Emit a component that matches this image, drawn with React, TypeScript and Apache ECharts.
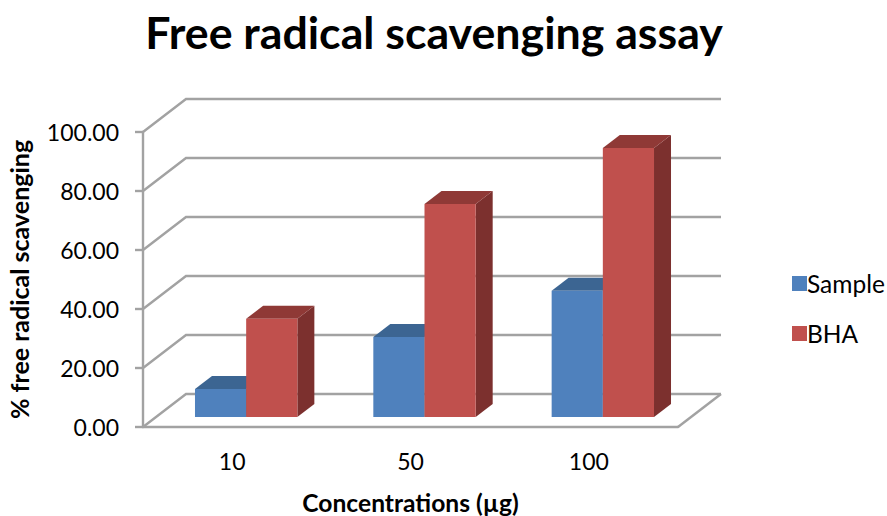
import React, { useEffect, useRef } from "react";
import * as echarts from "echarts";

const categories = ["10", "50", "100"];
const sampleValues = [9.5, 27.1, 42.8];
const bhaValues = [33.3, 72.2, 91.2];
const yTicks = [0, 20, 40, 60, 80, 100];

const FONT = "Lato, Carlito, 'Open Sans', sans-serif";
const WALL_DX = 43;
const WALL_DY = -33;
const BAR_SHIFT_X = 14;
const BAR_SHIFT_Y = -10;
const BAR_DX = 17;
const BAR_DY = -13;
const LINE = "#a2a2a2";
const LINE_W = 2.4;

function wallRender(params: any, api: any) {
  const cs = params.coordSys;
  const y = api.coord([0, api.value(1)])[1];
  const x0 = cs.x;
  const x1 = cs.x + cs.width;
  const children: any[] = [
    {
      type: "polyline",
      shape: { points: [[x0, y], [x0 + WALL_DX, y + WALL_DY], [x1 + WALL_DX, y + WALL_DY]] },
      style: { stroke: LINE, lineWidth: LINE_W, fill: "none" },
    },
  ];
  if (api.value(1) === 0) {
    children.push({
      type: "line",
      shape: { x1, y1: y, x2: x1 + WALL_DX, y2: y + WALL_DY },
      style: { stroke: LINE, lineWidth: LINE_W },
    });
  }
  return { type: "group", children };
}

function barRender(side: -1 | 1, front: string, top: string, right: string) {
  return (_params: any, api: any) => {
    const cat = api.value(0);
    const c0 = api.coord([cat, 0]);
    const c1 = api.coord([cat, api.value(1)]);
    const w = api.size([1, 0])[0] * 0.287;
    const xa = c0[0] + BAR_SHIFT_X + (side < 0 ? -w : 0);
    const xb = xa + w;
    const yb = c0[1] + BAR_SHIFT_Y;
    const yt = c1[1] + BAR_SHIFT_Y;
    return {
      type: "group",
      children: [
        {
          type: "polygon",
          shape: { points: [[xb, yb], [xb + BAR_DX, yb + BAR_DY], [xb + BAR_DX, yt + BAR_DY], [xb, yt]] },
          style: { fill: right },
        },
        {
          type: "polygon",
          shape: { points: [[xa, yt], [xa + BAR_DX, yt + BAR_DY], [xb + BAR_DX, yt + BAR_DY], [xb, yt]] },
          style: { fill: top },
        },
        { type: "rect", shape: { x: xa, y: yt, width: w, height: yb - yt }, style: { fill: front } },
      ],
    };
  };
}

export default function App() {
  const ref = useRef<HTMLDivElement>(null);
  useEffect(() => {
    document.body.style.margin = "0";
    const chart = echarts.init(ref.current!, undefined, { renderer: "svg" });
    chart.setOption({
      animation: false,
      backgroundColor: "#ffffff",
      title: {
        text: "Free radical scavenging assay",
        left: 429,
        top: 4,
        textAlign: "center",
        textStyle: { fontFamily: FONT, fontSize: 44.7, fontWeight: "bold", color: "#000000" },
      },
      grid: { left: 143, top: 132, width: 535, height: 295, outerBoundsMode: "none" },
      xAxis: {
        type: "category",
        data: categories,
        name: "Concentrations (µg)",
        nameLocation: "middle",
        nameGap: 63,
        nameTextStyle: { fontFamily: FONT, fontSize: 24.6, fontWeight: "bold", color: "#000000" },
        axisLine: { lineStyle: { color: LINE, width: LINE_W } },
        axisTick: { show: false },
        axisLabel: { fontFamily: FONT, fontSize: 23, color: "#000000", margin: 22 },
      },
      yAxis: {
        type: "value",
        min: 0,
        max: 100,
        interval: 20,
        name: "% free radical scavenging",
        nameLocation: "middle",
        nameRotate: 90,
        nameGap: 112,
        nameTextStyle: { fontFamily: FONT, fontSize: 25, fontWeight: "bold", color: "#000000" },
        axisLine: { show: true, lineStyle: { color: LINE, width: LINE_W } },
        axisTick: { show: true, length: 8, lineStyle: { color: LINE, width: LINE_W } },
        axisLabel: {
          fontFamily: FONT,
          fontSize: 23,
          color: "#000000",
          margin: 24,
          formatter: (v: number) => v.toFixed(2),
        },
        splitLine: { show: false },
      },
      legend: {
        data: ["Sample", "BHA"],
        orient: "vertical",
        left: 787,
        top: 266,
        itemWidth: 15,
        itemHeight: 15,
        itemGap: 25,
        icon: "rect",
        textStyle: { fontFamily: FONT, fontSize: 24.5, color: "#000000", padding: [0, 0, 0, -5] },
      },
      series: [
        {
          name: "walls",
          type: "custom",
          silent: true,
          clip: false,
          renderItem: wallRender,
          data: yTicks.map((t) => [0, t]),
          encode: { x: 0, y: 1 },
        },
        {
          name: "Sample",
          type: "custom",
          clip: false,
          itemStyle: { color: "#4f81bd" },
          renderItem: barRender(-1, "#4f81bd", "#3c6592", "#325478"),
          data: sampleValues.map((v, i) => [i, v]),
          encode: { x: 0, y: 1 },
        },
        {
          name: "BHA",
          type: "custom",
          clip: false,
          itemStyle: { color: "#c0504d" },
          renderItem: barRender(1, "#c0504d", "#8f3936", "#7c302e"),
          data: bhaValues.map((v, i) => [i, v]),
          encode: { x: 0, y: 1 },
        },
      ],
    });
    return () => chart.dispose();
  }, []);
  return <div ref={ref} style={{ width: 887, height: 516 }} />;
}
